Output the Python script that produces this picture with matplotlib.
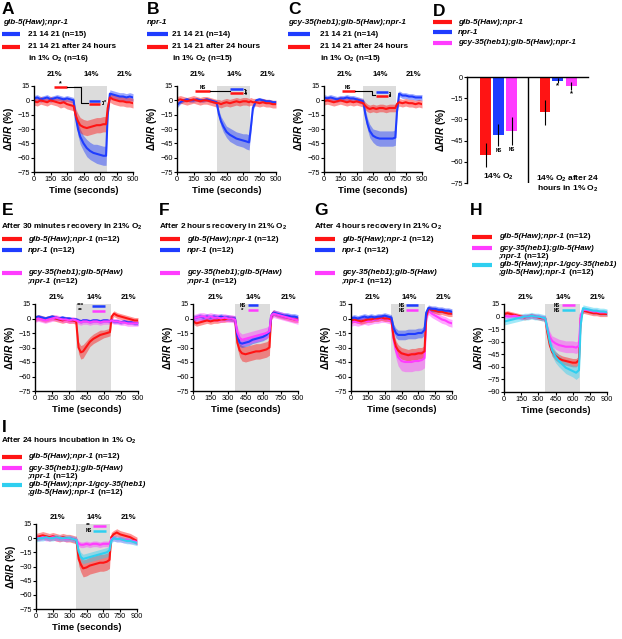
import numpy as np
import matplotlib
matplotlib.use("Agg")
import matplotlib.pyplot as plt
from matplotlib.lines import Line2D

plt.rcParams['font.family'] = ['Liberation Sans', 'DejaVu Sans']
plt.rcParams['mathtext.fontset'] = 'custom'
plt.rcParams['mathtext.rm'] = 'Liberation Sans:bold'
plt.rcParams['mathtext.it'] = 'Liberation Sans:italic:bold'
plt.rcParams['mathtext.bf'] = 'Liberation Sans:bold'

# ---- data ----
TIME = [0, 30, 60, 90, 120, 150, 180, 210, 240, 270, 300, 330, 360,
        380, 400, 420, 450, 480, 510, 540, 570, 600, 630, 655,
        670, 690, 720, 750, 780, 810, 840, 870, 900]
TIME_TICKS = [0, 150, 300, 450, 600, 750, 900]
PHASES = ['21%', '14%', '21%']

# A  glb-5(Haw);npr-1
A_blue = [2, 3, 1, 2, 3, 1, 2, 3, 2, 1, 2, 1, 0, -18, -30, -38, -45, -50, -53, -55, -56, -57, -58, -58, -15, 7, 6, 5, 4, 4, 3, 4, 3]
A_blue_sem = [3, 3, 3, 3, 3, 3, 3, 3, 3, 3, 3, 3, 3, 5, 7, 8, 8, 9, 9, 9, 10, 10, 10, 10, 6, 4, 4, 4, 4, 4, 4, 4, 4]
A_red = [-1, -2, 0, -1, -2, 0, -1, -2, -3, -2, -4, -5, -6, -16, -22, -26, -28, -29, -28, -27, -26, -26, -25, -25, -8, 3, 1, 0, -1, -1, -2, -2, -3]
A_red_sem = [4, 4, 4, 4, 4, 4, 4, 4, 5, 5, 5, 5, 5, 7, 8, 8, 8, 8, 8, 8, 8, 8, 8, 8, 6, 5, 5, 5, 5, 5, 5, 5, 5]
# B  npr-1
B_blue = [-5, -2, 0, 1, 0, 0, 1, 0, 0, 1, 0, -1, -2, -14, -22, -27, -33, -36, -38, -40, -41, -42, -43, -44, -30, -8, 0, 1, 0, -1, -1, -2, -2]
B_blue_sem = [3, 2, 2, 2, 2, 2, 2, 2, 2, 2, 2, 2, 2, 4, 5, 6, 6, 7, 7, 7, 7, 7, 8, 8, 6, 3, 2, 2, 2, 2, 2, 2, 2]
B_red = [0, 1, 0, -1, 0, 1, 0, -1, 0, 0, -1, -2, -3, -3, -4, -3, -2, -3, -2, -1, -2, -1, -1, -2, -1, -2, -2, -3, -2, -3, -3, -4, -4]
B_red_sem = [4, 4, 4, 4, 4, 4, 4, 4, 4, 4, 4, 4, 4, 4, 4, 4, 4, 4, 4, 4, 4, 4, 4, 4, 4, 4, 4, 4, 4, 4, 4, 4, 4]
# C  gcy-35(heb1);glb-5(Haw);npr-1
C_blue = [3, 2, 3, 2, 1, 2, 2, 3, 2, 2, 1, 0, -1, -15, -25, -32, -37, -39, -40, -40, -40, -40, -40, -39, -12, 7, 5, 5, 4, 4, 3, 3, 3]
C_blue_sem = [3, 3, 3, 3, 3, 3, 3, 3, 3, 3, 3, 3, 3, 5, 6, 7, 7, 8, 8, 8, 8, 8, 8, 8, 5, 3, 3, 3, 3, 3, 3, 3, 3]
C_red = [-1, 0, -1, -2, -1, 0, -1, -2, -1, -2, -1, -2, -3, -6, -8, -9, -8, -9, -8, -8, -9, -8, -8, -8, -4, -2, -3, -2, -3, -3, -4, -3, -4]
C_red_sem = [4, 4, 4, 4, 4, 4, 4, 4, 4, 4, 4, 4, 4, 4, 4, 4, 4, 4, 4, 4, 4, 4, 4, 4, 4, 4, 4, 4, 4, 4, 4, 4, 4]

# D  mean dR/R during 14% O2
D_GROUPS = ['14% O$_2$', '14% O$_2$ after 24\nhours in 1% O$_2$']
D_RED = [-55, -25]
D_RED_ERR = [8.5, 9]
D_BLUE = [-41, -2.5]
D_BLUE_ERR = [8, 1.5]
D_MAG = [-38, -6.5]
D_MAG_ERR = [10, 3]
D_SIG = [['NS', 'NS'], ['*', '*']]

# E  after 30 min recovery
E_red = [0, 1, 0, -1, 0, 1, 0, -1, -2, -1, -2, -2, -3, -30, -35, -34, -29, -24, -21, -19, -17, -16, -15, -14, 2, 5, 3, 2, 1, 0, -1, -2, -2]
E_red_sem = [3, 3, 3, 3, 3, 3, 3, 3, 3, 3, 3, 3, 3, 6, 7, 7, 6, 5, 5, 5, 5, 4, 4, 4, 3, 3, 3, 3, 3, 3, 3, 3, 3]
E_blue = [1, 2, 1, 0, 1, 2, 1, 0, 1, 0, 0, -1, -1, -2, -3, -2, -2, -3, -2, -2, -3, -2, -2, -3, -2, -3, -3, -4, -3, -4, -4, -5, -5]
E_blue_sem = [2, 2, 2, 2, 2, 2, 2, 2, 2, 2, 2, 2, 2, 2, 2, 2, 2, 2, 2, 2, 2, 2, 2, 2, 2, 2, 2, 2, 2, 2, 2, 2, 2]
E_mag = [-1, 0, -1, -2, -1, 0, 1, 0, -1, -1, -2, -1, -2, -3, -4, -3, -3, -4, -3, -3, -4, -3, -3, -3, -2, -3, -3, -4, -4, -5, -5, -5, -5]
E_mag_sem = [3, 3, 3, 3, 3, 3, 3, 3, 3, 3, 3, 3, 3, 3, 3, 3, 3, 3, 3, 3, 3, 3, 3, 3, 3, 3, 3, 3, 3, 3, 3, 3, 3]
# F  after 2 h recovery
F_red = [-3, -5, -4, -3, -2, -3, -2, -2, -1, -1, 0, 0, -1, -25, -33, -36, -37, -36, -35, -34, -34, -33, -32, -30, 2, 6, 4, 3, 2, 1, 0, -1, -1]
F_red_sem = [3, 3, 3, 3, 3, 3, 3, 3, 3, 3, 3, 3, 3, 6, 7, 8, 8, 8, 8, 8, 8, 8, 8, 8, 4, 3, 3, 3, 3, 3, 3, 3, 3]
F_blue = [0, 1, 2, 1, 2, 1, 2, 1, 2, 1, 1, 0, 0, -18, -25, -26, -25, -24, -22, -21, -20, -19, -17, -14, 3, 6, 5, 4, 3, 3, 2, 2, 1]
F_blue_sem = [3, 3, 3, 3, 3, 3, 3, 3, 3, 3, 3, 3, 3, 4, 4, 4, 4, 4, 4, 4, 4, 4, 4, 4, 3, 3, 3, 3, 3, 3, 3, 3, 3]
F_mag = [0, 1, 2, 2, 1, 2, 1, 1, 0, 1, 0, 0, -1, -14, -20, -22, -21, -20, -19, -18, -17, -16, -15, -13, 3, 5, 4, 3, 2, 1, 0, -1, -2]
F_mag_sem = [4, 4, 4, 4, 4, 4, 4, 4, 4, 4, 4, 4, 4, 5, 6, 6, 6, 6, 6, 6, 6, 6, 6, 6, 4, 4, 4, 4, 4, 4, 4, 4, 4]
# G  after 4 h recovery
G_red = [-2, -1, -2, -3, -2, -1, -1, 0, 0, 1, 0, 0, -1, -20, -29, -33, -36, -37, -38, -37, -37, -36, -36, -34, 2, 10, 9, 8, 7, 7, 6, 5, 5]
G_red_sem = [3, 3, 3, 3, 3, 3, 3, 3, 3, 3, 3, 3, 3, 5, 6, 6, 6, 6, 6, 6, 6, 6, 6, 6, 3, 3, 3, 3, 3, 3, 3, 3, 3]
G_blue = [0, 1, 0, 1, 2, 1, 2, 1, 2, 2, 3, 2, 1, -10, -15, -17, -17, -17, -16, -16, -16, -15, -15, -12, 6, 11, 10, 10, 9, 9, 8, 8, 7]
G_blue_sem = [3, 3, 3, 3, 3, 3, 3, 3, 3, 3, 3, 3, 3, 4, 5, 5, 5, 5, 5, 5, 5, 5, 5, 5, 3, 3, 3, 3, 3, 3, 3, 3, 3]
G_mag = [-4, -3, -4, -3, -2, -3, -2, -1, -1, 0, 0, -1, -2, -22, -33, -40, -44, -45, -45, -45, -44, -44, -43, -41, 0, 8, 5, 3, 1, -1, -2, -4, -5]
G_mag_sem = [4, 4, 4, 4, 4, 4, 4, 4, 4, 4, 4, 4, 4, 7, 8, 9, 10, 10, 10, 10, 10, 10, 10, 10, 5, 4, 4, 4, 4, 4, 4, 4, 4]
# H  rescue
H_red = [3, 4, 3, 2, 1, 0, -1, 0, 1, 0, -1, -2, -2, -20, -34, -42, -47, -50, -52, -53, -54, -55, -55, -52, -2, 7, 6, 5, 4, 4, 3, 3, 3]
H_red_sem = [3, 3, 3, 3, 3, 3, 3, 3, 3, 3, 3, 3, 3, 4, 5, 5, 5, 5, 5, 5, 5, 5, 5, 5, 3, 3, 3, 3, 3, 3, 3, 3, 3]
H_mag = [1, 0, 0, 1, 0, -1, 0, 0, 1, 0, 0, -1, -2, -15, -24, -29, -32, -34, -35, -36, -36, -36, -37, -35, 2, 8, 8, 7, 6, 6, 5, 5, 5]
H_mag_sem = [3, 3, 3, 3, 3, 3, 3, 3, 3, 3, 3, 3, 3, 5, 6, 6, 7, 7, 7, 7, 7, 7, 7, 7, 3, 3, 3, 3, 3, 3, 3, 3, 3]
H_cyan = [-6, -5, -4, -3, -2, -1, 0, 0, 1, 0, 0, -1, -2, -15, -30, -40, -48, -53, -57, -61, -63, -65, -67, -64, -10, 10, 9, 8, 7, 7, 6, 6, 5]
H_cyan_sem = [4, 4, 4, 4, 4, 4, 4, 4, 4, 4, 4, 4, 4, 5, 6, 7, 7, 7, 7, 7, 7, 7, 8, 8, 5, 4, 4, 4, 4, 4, 4, 4, 4]
# I  after 24 h in 1% O2
I_red = [1, 2, 3, 2, 1, 2, 1, 0, 1, 0, 0, -1, -2, -22, -28, -32, -31, -29, -28, -27, -26, -26, -25, -23, 1, 4, 6, 4, 3, 2, 1, -1, -3]
I_red_sem = [4, 4, 4, 4, 4, 4, 4, 4, 4, 4, 4, 4, 4, 7, 8, 9, 9, 9, 9, 9, 9, 9, 9, 9, 5, 4, 4, 4, 4, 4, 4, 4, 4]
I_mag = [1, 0, 1, 0, 0, 1, 0, 0, 0, -1, 0, -1, -2, -6, -7, -7, -6, -7, -6, -6, -7, -6, -6, -6, -1, 0, -1, -1, -2, -2, -3, -3, -4]
I_mag_sem = [3, 3, 3, 3, 3, 3, 3, 3, 3, 3, 3, 3, 3, 3, 3, 3, 3, 3, 3, 3, 3, 3, 3, 3, 3, 3, 3, 3, 3, 3, 3, 3, 3]
I_cyan = [-1, 0, 0, 1, 0, 0, 1, 0, 0, 0, 0, -1, -2, -14, -20, -22, -21, -20, -19, -18, -17, -16, -15, -13, -3, 0, -1, -1, -2, -3, -3, -4, -5]
I_cyan_sem = [3, 3, 3, 3, 3, 3, 3, 3, 3, 3, 3, 3, 3, 4, 5, 5, 5, 5, 5, 5, 5, 5, 5, 5, 3, 3, 3, 3, 3, 3, 3, 3, 3]

RED = '#ff1414'
BLUE = '#1f3cff'
MAG = '#ff3cff'
CYAN = '#2fcff0'
GREY = '#dcdcdc'

W, H = 622, 639
fig = plt.figure(figsize=(W / 100, H / 100), dpi=100)
renderer = fig.canvas.get_renderer()


def fx(px):
    return px / W


def fy(py):
    return 1 - py / H


def add_panel(l, r, t, b):
    return fig.add_axes([fx(l), fy(b), (r - l) / W, (b - t) / H])


def letter(x, y, s):
    fig.text(fx(x), fy(y), s, fontsize=12.5, fontweight='bold', va='center', ha='left')


def label(x, y, parts, size=5.9):
    # parts: list of (text, italic) written one after the other
    for txt, it in parts:
        t = fig.text(fx(x), fy(y), txt, fontsize=size, fontweight='bold',
                     style='italic' if it else 'normal', va='center', ha='left')
        x = t.get_window_extent(renderer).x1


def swatch(x0, x1, y, color):
    fig.add_artist(Line2D([fx(x0), fx(x1)], [fy(y), fy(y)], color=color, lw=3,
                          solid_capstyle='butt'))


def trace_panel(l, r, t, b, series, ymin=-75, lab_off=5):
    ax = add_panel(l, r, t, b)
    ax.axvspan(360, 660, color=GREY, lw=0, zorder=0)
    for mean, sem, col in series:
        m = np.asarray(mean, float)
        s = np.asarray(sem, float)
        ax.fill_between(TIME, m - s, m + s, color=col, alpha=0.45, lw=0)
        ax.plot(TIME, m, color=col, lw=1.5)
    ax.set_xlim(0, 900)
    ax.set_ylim(ymin, 15)
    ax.set_xticks(TIME_TICKS)
    ax.set_yticks(list(range(15, ymin - 1, -15)))
    ax.spines[['top', 'right']].set_visible(False)
    ax.spines[['left', 'bottom']].set_linewidth(1)
    ax.tick_params(labelsize=5.3, length=2, width=0.8, pad=1)
    ax.set_xlabel('Time (seconds)', fontsize=6.8, fontweight='bold', labelpad=2)
    ax.set_ylabel(r'$\Delta\mathit{R/R}$ (%)', fontsize=7.2, fontweight='bold', labelpad=1)
    for tx, lab in zip([190, 520, 820], PHASES):
        ax.annotate(lab, xy=(tx, 1), xycoords=('data', 'axes fraction'),
                    xytext=(0, lab_off), textcoords='offset points',
                    ha='center', va='center', fontsize=5.6, fontweight='bold')
    return ax


def mark(ax, t0, t1, y, color, lw=1.8):
    ax.plot([t0, t1], [y, y], color=color, lw=lw, solid_capstyle='butt', clip_on=False)


def note(ax, x, y, s, size=4, rot=0):
    ax.text(x, y, s, ha='center', va='center', fontsize=size, fontweight='bold',
            rotation=rot, clip_on=False)


# ---------------- row 1 ----------------
letter(2, 9, 'A')
label(3, 22, [('glb-5(Haw);npr-1', True)])
swatch(2, 20, 34, BLUE)
label(28, 34, [('21 14 21 (n=15)', False)])
swatch(2, 20, 47, RED)
label(28, 47, [('21 14 21 after 24 hours', False)])
label(28, 59, [('in 1% O$_2$ (n=16)', False)])
axA = trace_panel(34, 133, 86, 172, [(A_blue, A_blue_sem, BLUE), (A_red, A_red_sem, RED)], lab_off=8)
mark(axA, 180, 300, 13.5, RED)
note(axA, 240, 17, '*', 5)
axA.plot([300, 423, 423, 489], [13.5, 13.5, -2.5, -2.5], color='k', lw=0.8)
mark(axA, 498, 603, -0.5, BLUE)
mark(axA, 498, 603, -4, RED)
axA.plot([615, 625, 625, 615], [-0.5, -0.5, -4, -4], color='k', lw=0.6)
note(axA, 650, -2.2, '*', 4)

letter(147, 9, 'B')
label(147, 22, [('npr-1', True)])
swatch(147, 168, 34, BLUE)
label(172, 34, [('21 14 21 (n=14)', False)])
swatch(147, 168, 47, RED)
label(172, 47, [('21 14 21 after 24 hours', False)])
label(172, 59, [('in 1% O$_2$ (n=15)', False)])
axB = trace_panel(177, 276, 86, 172, [(B_blue, B_blue_sem, BLUE), (B_red, B_red_sem, RED)], lab_off=8)
mark(axB, 165, 300, 10, RED)
note(axB, 232, 13.5, 'NS', 3.3)
axB.plot([300, 482], [10, 10], color='k', lw=0.8)
mark(axB, 482, 603, 11.5, BLUE)
mark(axB, 482, 603, 8, RED)
axB.plot([612, 622, 622, 612], [11.5, 11.5, 8, 8], color='k', lw=0.6)
note(axB, 645, 9.5, '***', 4, rot=90)

letter(288, 9, 'C')
label(288, 22, [('gcy-35(heb1);glb-5(Haw);npr-1', True)])
swatch(288, 310, 34, BLUE)
label(320, 34, [('21 14 21 (n=14)', False)])
swatch(288, 310, 47, RED)
label(320, 47, [('21 14 21 after 24 hours', False)])
label(320, 59, [('in 1% O$_2$ (n=15)', False)])
axC = trace_panel(324, 422, 86, 172, [(C_blue, C_blue_sem, BLUE), (C_red, C_red_sem, RED)], lab_off=8)
mark(axC, 162, 285, 10, RED)
note(axC, 223, 13.5, 'NS', 3.3)
axC.plot([285, 438, 438, 468], [10, 10, 6, 6], color='k', lw=0.8)
mark(axC, 477, 590, 8.5, BLUE)
mark(axC, 477, 590, 5, RED)
axC.plot([600, 610, 610, 600], [8.5, 8.5, 5, 5], color='k', lw=0.6)
note(axC, 632, 7, '**', 4, rot=90)

# D bar chart
letter(433, 12, 'D')
for yy, col, txt in [(22, RED, 'glb-5(Haw);npr-1'), (32, BLUE, 'npr-1'),
                     (43, MAG, 'gcy-35(heb1);glb-5(Haw);npr-1')]:
    swatch(433, 452, yy, col)
    label(458, yy, [(txt, True)])
axD = add_panel(467, 588, 77, 183)
centers = np.array([2.6, 7.5])
offsets = [-1.05, 0.0, 1.1]
for off, vals, errs, col in zip(offsets, [D_RED, D_BLUE, D_MAG],
                                [D_RED_ERR, D_BLUE_ERR, D_MAG_ERR], [RED, BLUE, MAG]):
    xs = centers + off
    axD.bar(xs, vals, width=0.9, color=col, edgecolor='none')
    axD.errorbar(xs, vals, yerr=errs, fmt='none', ecolor='k', elinewidth=0.8, capsize=0)
for gi in range(2):
    for k, (vals, errs) in enumerate([(D_BLUE, D_BLUE_ERR), (D_MAG, D_MAG_ERR)]):
        s = D_SIG[gi][k]
        y = vals[gi] - errs[gi] - (3 if s == 'NS' else 2.5)
        note(axD, centers[gi] + offsets[k + 1], y, s, 3.3 if s == 'NS' else 5.5)
axD.plot([5.04, 5.04], [0, -75], color='k', lw=1)
axD.text(centers[0], -70.8, D_GROUPS[0], ha='center', va='center', fontsize=6.0, fontweight='bold')
axD.text(8.35, -75.5, D_GROUPS[1], ha='center', va='center', fontsize=6.0, fontweight='bold',
         linespacing=1.05, clip_on=False)
axD.set_xlim(0, 10)
axD.set_ylim(-75, 0)
axD.set_yticks([0, -15, -30, -45, -60, -75])
axD.set_xticks([])
axD.spines[['bottom', 'right']].set_visible(False)
axD.spines[['left', 'top']].set_linewidth(1)
axD.tick_params(labelsize=5.3, length=2, width=0.8, pad=1)
axD.set_ylabel(r'$\Delta\mathit{R/R}$ (%)', fontsize=7.2, fontweight='bold', labelpad=2)


# ---------------- row 2 ----------------
def legend_rows(x_sw, x_txt, entries):
    for yy, col, parts in entries:
        if col:
            swatch(x_sw, x_sw + 20, yy, col)
        label(x_txt, yy, parts)


for lx, sx, tx, ttl in [('E', 2, 28, 'After 30 minutes recovery in 21% O$_2$'),
                        ('F', 160, 187, 'After 2 hours recovery in 21% O$_2$'),
                        ('G', 315, 342, 'After 4 hours recovery in 21% O$_2$')]:
    letter(sx - 1 if lx != 'E' else 2, 210, lx)
    label(sx - 1, 227, [(ttl, False)])
    legend_rows(sx, tx, [
        (239, RED, [('glb-5(Haw);npr-1', True), (' (n=12)', False)]),
        (250, BLUE, [('npr-1', True), (' (n=12)', False)]),
        (273, MAG, [('gcy-35(heb1);glb-5(Haw)', True)]),
        (282, None, [(';npr-1', True), (' (n=12)', False)]),
    ])

axE = trace_panel(35, 138, 304, 391, [(E_red, E_red_sem, RED), (E_blue, E_blue_sem, BLUE),
                                      (E_mag, E_mag_sem, MAG)])
note(axE, 398, 13, '***', 4.5)
mark(axE, 502, 615, 13, BLUE)
note(axE, 398, 8, '**', 4.5)
mark(axE, 502, 615, 8, MAG)

axF = trace_panel(193, 298, 304, 391, [(F_red, F_red_sem, RED), (F_blue, F_blue_sem, BLUE),
                                       (F_mag, F_mag_sem, MAG)])
note(axF, 425, 13.5, 'NS', 3.3)
mark(axF, 470, 557, 13.5, BLUE)
note(axF, 425, 8, '*', 4.5)
mark(axF, 470, 557, 8.5, MAG)

axG = trace_panel(351, 452, 304, 391, [(G_mag, G_mag_sem, MAG), (G_red, G_red_sem, RED),
                                       (G_blue, G_blue_sem, BLUE)])
note(axG, 455, 13.5, 'NS', 3.3)
mark(axG, 490, 593, 13.5, BLUE)
note(axG, 455, 8.5, 'NS', 3.3)
mark(axG, 490, 593, 8.5, MAG)

letter(470, 210, 'H')
legend_rows(472, 499, [
    (237, RED, [('glb-5(Haw);npr-1', True), (' (n=12)', False)]),
    (248, MAG, [('gcy-35(heb1);glb-5(Haw)', True)]),
    (256, None, [(';npr-1', True), (' (n=12)', False)]),
    (265, CYAN, [('glb-5(Haw);npr-1/gcy-35(heb1)', True)]),
    (273, None, [(';glb-5(Haw);npr-1', True), (' (n=12)', False)]),
])
axH = trace_panel(504, 607, 304, 392, [(H_red, H_red_sem, RED), (H_mag, H_mag_sem, MAG),
                                       (H_cyan, H_cyan_sem, CYAN)], ymin=-90)
note(axH, 463, 13.5, 'NS', 3.3)
mark(axH, 506, 620, 13.5, MAG)
note(axH, 463, 7.5, 'NS', 3.3)
mark(axH, 506, 620, 7.5, CYAN)

# ---------------- row 3 ----------------
letter(2, 427, 'I')
label(1, 441, [('After 24 hours incubation in 1% O$_2$', False)])
legend_rows(2, 28, [
    (457, RED, [('glb-5(Haw);npr-1', True), (' (n=12)', False)]),
    (468, MAG, [('gcy-35(heb1);glb-5(Haw)', True)]),
    (476, None, [(';npr-1', True), (' (n=12)', False)]),
    (485, CYAN, [('glb-5(Haw);npr-1/gcy-35(heb1)', True)]),
    (493, None, [(';glb-5(Haw);npr-1', True), (' (n=12)', False)]),
])
axI = trace_panel(36, 137, 524, 609, [(I_red, I_red_sem, RED), (I_mag, I_mag_sem, MAG),
                                      (I_cyan, I_cyan_sem, CYAN)])
note(axI, 468, 13, '**', 4.5)
mark(axI, 504, 627, 13, MAG)
note(axI, 468, 8, 'NS', 3.3)
mark(axI, 504, 627, 8, CYAN)

fig.savefig('out.png', dpi=100)
